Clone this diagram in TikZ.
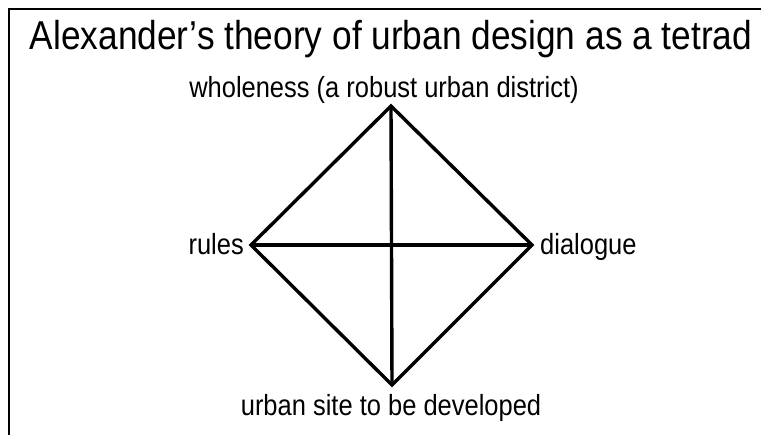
\documentclass[tikz,border=0pt]{standalone}
\usepackage{graphicx}
\usepackage{fontspec}
\setmainfont{Liberation Sans}
\newcommand{\tallbox}[1]{\scalebox{0.98}[1.12]{#1}}
\begin{document}
\begin{tikzpicture}[x=1pt,y=-1pt,
  frame/.style={line width=2pt,black},
  edge/.style={line width=3.4pt,black,line join=miter},
  titletext/.style={inner sep=0pt,font=\fontsize{36}{40}\selectfont},
  label/.style={inner sep=0pt,font=\fontsize{26}{30}\selectfont}]
\useasboundingbox (0,0) rectangle (761,435);
% frame
\coordinate (f0) at (9,9);
\coordinate (f1) at (762,9);
\coordinate (f2) at (9,436);
\draw[frame] (f1) -- (f0) -- (f2);
% title
\node[titletext,anchor=base] (title) at (391,50) {\tallbox{Alexander’s theory of urban design as a tetrad}};
% vertices
\coordinate (T) at (391,106);
\coordinate (L) at (251,245);
\coordinate (R) at (532,245);
\coordinate (B) at (392,385);
\draw[edge] (T) -- (R) -- (B) -- (L) -- cycle;
\draw[edge] (T) -- (B);
\draw[edge] (L) -- (R);
% labels
\node[label,anchor=base] (whole) at (384,98) {\tallbox{wholeness (a robust urban district)}};
\node[label,anchor=base east] (rules) at (244,255) {\tallbox{rules}};
\node[label,anchor=base west] (dia) at (540,255) {\tallbox{dialogue}};
\node[label,anchor=base] (site) at (391,416) {\tallbox{urban site to be developed}};
\end{tikzpicture}
\end{document}
